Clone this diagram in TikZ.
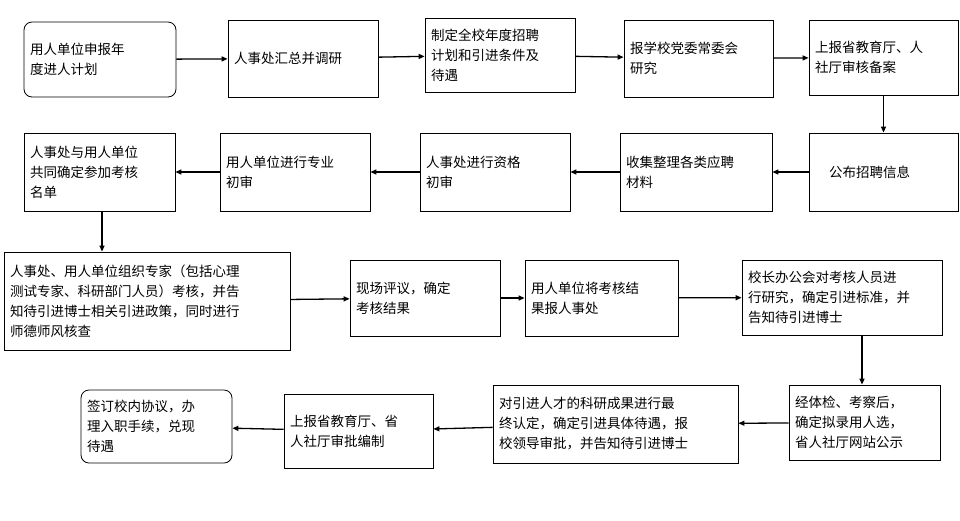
\documentclass[tikz,border=0pt]{standalone}
\usepackage{fontspec}
\setmainfont{Noto Sans CJK SC}
\usetikzlibrary{arrows.meta}

\tikzset{
  stepbox/.style={draw, thick, align=left, inner sep=0pt, font=\fontsize{13.5}{20}\selectfont},
  endbox/.style={stepbox, rounded corners=8pt},
  flow/.style={-{Triangle[length=6pt,width=5pt]}, line width=1.3pt}
}
% box from corner (x1,y1) to corner (x2,y2), in pixels
\newcommand{\bx}[7][stepbox]{%
  \pgfmathsetmacro{\bw}{#5-#3}\pgfmathsetmacro{\bh}{#6-#4}\pgfmathsetmacro{\tw}{#5-#3-12}%
  \node[#1, minimum width=\bw pt, minimum height=\bh pt, text width=\tw pt]
    (#2) at ({(#3+#5)/2},{(#4+#6)/2}) {#7};}

\begin{document}
\begin{tikzpicture}[x=1pt,y=-1pt]
  \useasboundingbox (0,0) rectangle (960,520);

  % row 1
  \bx[endbox]{apply}{24}{22}{176}{97}{用人单位申报年\\度进人计划}
  \bx{collect}{228}{20}{378}{97}{人事处汇总并调研}
  \bx{plan}{425}{18}{575}{92}{制定全校年度招聘\\计划和引进条件及\\待遇}
  \bx{party}{624}{20}{773}{97}{报学校党委常委会\\研究}
  \bx{report}{809}{20}{958}{95}{上报省教育厅、人\\社厅审核备案}
  % row 2
  \bx{publish}{809}{133}{958}{211}{\hspace*{14pt}公布招聘信息}
  \bx{gather}{620}{133}{772}{211}{收集整理各类应聘\\材料}
  \bx{check}{420}{133}{570}{211}{人事处进行资格\\初审}
  \bx{expert}{220}{133}{370}{211}{用人单位进行专业\\初审}
  \bx{list}{24}{133}{175}{211}{人事处与用人单位\\共同确定参加考核\\名单}
  % row 3
  \bx{exam}{4}{252}{290}{350}{人事处、用人单位组织专家（包括心理\\测试专家、科研部门人员）考核，并告\\知待引进博士相关引进政策，同时进行\\师德师风核查}
  \bx{review}{350}{260}{500}{336}{现场评议，确定\\考核结果}
  \bx{result}{525}{260}{678}{336}{用人单位将考核结\\果报人事处}
  \bx{office}{742}{260}{942}{335}{校长办公会对考核人员进\\行研究，确定引进标准，并\\告知待引进博士}
  % row 4
  \bx{health}{789}{385}{940}{460}{经体检、考察后，\\确定拟录用人选，\\省人社厅网站公示}
  \bx{confirm}{493}{385}{738}{463}{对引进人才的科研成果进行最\\终认定，确定引进具体待遇，报\\校领导审批，并告知待引进博士}
  \bx{quota}{284}{394}{433}{468}{上报省教育厅、省\\人社厅审批编制}
  \bx[endbox]{sign}{81}{390}{232}{463}{签订校内协议，办\\理入职手续，兑现\\待遇}

  \draw[flow] (apply) -- (collect);
  \draw[flow] (collect) -- (plan);
  \draw[flow] (plan) -- (party);
  \draw[flow] (party) -- (report);
  \draw[flow] (report) -- (publish);
  \draw[flow] (publish) -- (gather);
  \draw[flow] (gather) -- (check);
  \draw[flow] (check) -- (expert);
  \draw[flow] (expert) -- (list);
  \draw[flow] (list.south -| 102,0) -- (exam.north -| 102,0);
  \draw[flow] (exam) -- (review);
  \draw[flow] (review) -- (result);
  \draw[flow] (result) -- (office);
  \draw[flow] (office.south -| 862,0) -- (health.north -| 862,0);
  \draw[flow] (health) -- (confirm);
  \draw[flow] (confirm) -- (quota);
  \draw[flow] (quota) -- (sign);
\end{tikzpicture}
\end{document}
